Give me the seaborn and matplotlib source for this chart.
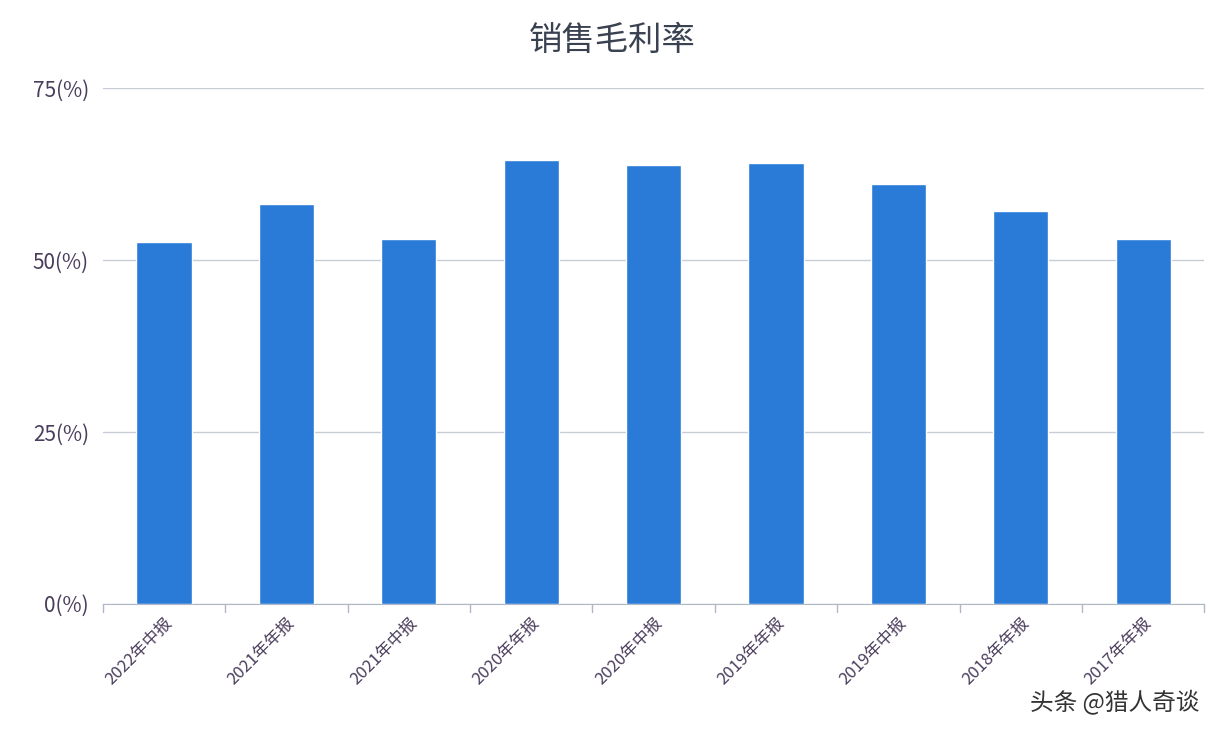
import matplotlib
matplotlib.use("Agg")
import matplotlib.pyplot as plt
import seaborn as sns
import pandas as pd
import numpy as np

periods = ['2022年中报', '2021年年报', '2021年中报', '2020年年报', '2020年中报',
           '2019年年报', '2019年中报', '2018年年报', '2017年年报']
margin = [52.7, 58.2, 53.1, 64.5, 63.8, 64.1, 61.1, 57.2, 53.1]
yticks = [0, 25, 50, 75]

sns.set_style("white")
plt.rcParams['font.family'] = ['Noto Sans CJK SC', 'DejaVu Sans']

df = pd.DataFrame({'period': periods, 'margin': margin})
fig = plt.figure(figsize=(12.24, 7.36), dpi=100)
ax = fig.add_axes([0.084, 0.18, 0.90, 0.70])
sns.barplot(data=df, x='period', y='margin', color='#2a7ad8', width=0.45,
            saturation=1, ax=ax, zorder=3)

ax.set_ylim(0, 75)
ax.set_xlim(-0.5, len(periods) - 0.5)
ax.set_yticks(yticks)
ax.set_yticklabels([f'{v}(%)' for v in yticks], fontsize=15, color='#4a3d5c')
ax.yaxis.grid(True, color='#c8ccd6', linewidth=1, zorder=0)
ax.set_xticks(np.arange(len(periods)))
ax.set_xticklabels(periods, rotation=45, ha='right', rotation_mode='anchor',
                   fontsize=12, color='#4a3d5c')
ax.tick_params(axis='x', length=0, pad=8)
ax.tick_params(axis='y', length=0, pad=10)
for b in np.arange(-0.5, len(periods), 1.0):
    ax.plot([b, b], [0, -1.2], color='#b0b8c8', lw=1, clip_on=False)
ax.set_xlabel('')
ax.set_ylabel('')
for s in ['top', 'right', 'left']:
    ax.spines[s].set_visible(False)
ax.spines['bottom'].set_color('#b0b8c8')

fig.text(0.5, 0.945, '销售毛利率', ha='center', va='center', fontsize=24, color='#3a4150')
fig.text(0.98, 0.045, '头条 @猎人奇谈', ha='right', va='center', fontsize=17, color='#333333')

fig.savefig('out.png', dpi=100)
